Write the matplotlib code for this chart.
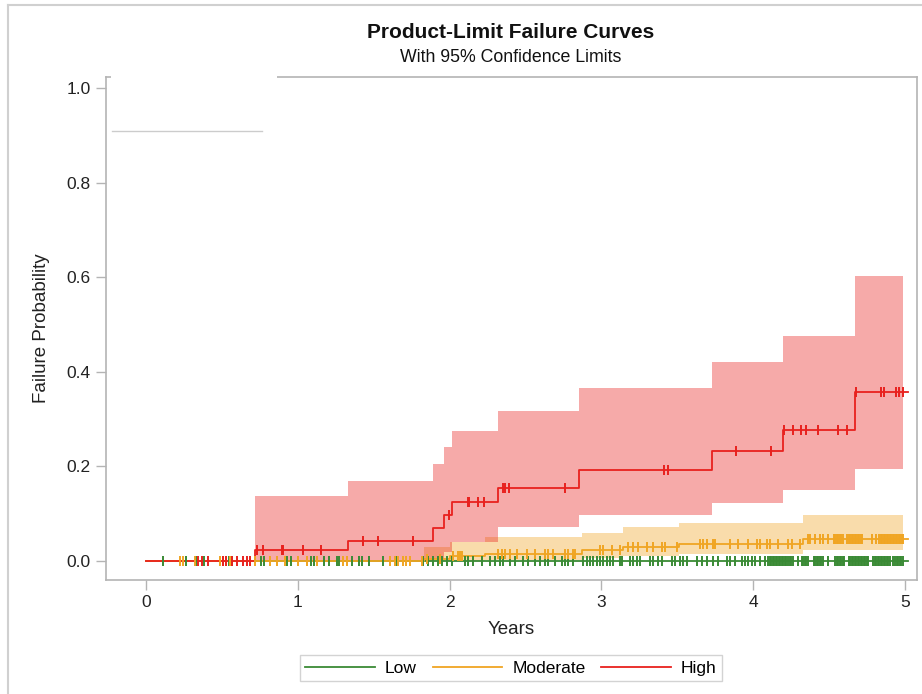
import numpy as np
import matplotlib
matplotlib.use("Agg")
import matplotlib.pyplot as plt
from matplotlib.lines import Line2D
from matplotlib.patches import Rectangle

plt.rcParams['font.family'] = ['Liberation Sans', 'DejaVu Sans']

# ---------------- data ----------------
groups = ["Low", "Moderate", "High"]

# High risk group: step times, failure probability and 95% limits
high_times = [0.0, 0.718, 1.333, 1.893, 1.963, 2.016, 2.32, 2.855, 3.73, 4.20, 4.673]
high_fail  = [0.0, 0.023, 0.043, 0.070, 0.097, 0.125, 0.155, 0.192, 0.2325, 0.277, 0.357]
high_upper = [0.0, 0.138, 0.169, 0.205, 0.242, 0.275, 0.317, 0.366, 0.421, 0.476, 0.603]
high_lower = [0.0, 0.0, 0.0, 0.005, 0.020, 0.041, 0.073, 0.097, 0.122, 0.150, 0.194]
high_censor = [0.345, 0.367, 0.41, 0.51, 0.53, 0.565, 0.60, 0.64, 0.663, 0.685,
               0.73, 0.773, 0.895, 0.905, 1.036, 1.153,
               1.427, 1.53, 1.76,
               1.997, 2.119, 2.13, 2.19, 2.23,
               2.35, 2.365, 2.393, 2.76,
               3.41, 3.44, 3.89, 4.12,
               4.205, 4.264, 4.313, 4.348, 4.425, 4.557, 4.616,
               4.68, 4.846, 4.862, 4.94, 4.963, 4.985]

# Moderate risk group
mod_times = [0.0, 1.83, 2.0, 2.233, 2.87, 3.14, 3.51, 4.33]
mod_fail  = [0.0, 0.005, 0.010, 0.016, 0.023, 0.030, 0.037, 0.046]
mod_upper = [0.0, 0.030, 0.041, 0.050, 0.059, 0.071, 0.080, 0.097]
mod_lower = [0.0, 0.0, 0.001, 0.003, 0.006, 0.010, 0.016, 0.023]
mod_censor = [0.224, 0.246, 0.323, 0.49, 0.51, 0.53, 0.55, 0.718, 0.817, 0.861, 0.916,
              1.003, 1.059, 1.124, 1.30, 1.322, 1.61, 1.64, 1.66, 1.69, 1.71, 1.74,
              1.816, 1.849, 1.937, 2.025, 2.058, 2.07, 2.08,
              2.32, 2.343, 2.365, 2.398, 2.441, 2.507, 2.562, 2.628, 2.65, 2.683,
              2.76, 2.782, 2.815, 2.826,
              2.99, 3.013, 3.068, 3.122,
              3.177, 3.21, 3.243, 3.298, 3.342, 3.397, 3.419, 3.496,
              3.65, 3.672, 3.694, 3.738, 3.748, 3.847, 3.902, 3.968, 4.023, 4.045,
              4.089, 4.111, 4.166, 4.232, 4.254, 4.309,
              4.363, 4.374, 4.407, 4.44, 4.462, 4.495,
              4.53, 4.54, 4.55, 4.56, 4.57, 4.58, 4.59,
              4.62, 4.63, 4.64, 4.65, 4.66, 4.67, 4.68, 4.69, 4.70, 4.71, 4.72,
              4.781, 4.813,
              4.83, 4.84, 4.85, 4.86, 4.87, 4.88, 4.89, 4.90, 4.91, 4.92,
              4.93, 4.94, 4.95, 4.96, 4.97, 4.98, 4.99]

# Low risk group (no failures)
low_times = [0.0]
low_fail  = [0.0]
low_upper = [0.0]
low_lower = [0.0]
low_censor = [0.112, 0.261, 0.327, 0.382, 0.547, 0.569, 0.756, 0.778, 0.931, 0.953,
              1.085, 1.107, 1.173, 1.206, 1.261, 1.272, 1.36, 1.404, 1.426, 1.47,
              1.558, 1.646, 1.827, 1.86, 1.893, 1.926, 1.948, 1.981, 2.014,
              2.101, 2.123, 2.156, 2.211, 2.266, 2.299, 2.332, 2.354, 2.398, 2.431,
              2.486, 2.519, 2.563, 2.596, 2.628, 2.65, 2.694, 2.738, 2.76, 2.782,
              2.815, 2.881, 2.903, 2.925, 2.947, 2.969, 2.991, 3.013, 3.035, 3.057,
              3.079, 3.123, 3.134, 3.188, 3.21, 3.232, 3.254, 3.32, 3.342, 3.375,
              3.397, 3.463, 3.485, 3.518, 3.54, 3.562, 3.628, 3.661, 3.693, 3.737,
              3.77, 3.825, 3.847, 3.88, 3.924, 3.946, 3.968, 3.99, 4.012, 4.045, 4.078,
              4.10, 4.11, 4.12, 4.13, 4.14, 4.15, 4.16, 4.17, 4.18, 4.19, 4.20,
              4.21, 4.22, 4.23, 4.24, 4.25, 4.26, 4.297,
              4.32, 4.33, 4.34, 4.35, 4.36,
              4.40, 4.41, 4.42, 4.43, 4.44, 4.45, 4.46, 4.495,
              4.54, 4.55, 4.56, 4.57, 4.58, 4.59, 4.60,
              4.63, 4.64, 4.65, 4.66, 4.67, 4.68, 4.69, 4.70, 4.71, 4.72, 4.73,
              4.74, 4.75, 4.76,
              4.79, 4.80, 4.81, 4.82, 4.83, 4.84, 4.85, 4.86, 4.87, 4.88, 4.89, 4.90,
              4.925, 4.935, 4.945, 4.955, 4.965, 4.975, 4.985]

end_time = 5.02
band_end = 4.99

colors = {"Low": "#3A8A35", "Moderate": "#F0A523", "High": "#E8211E"}

series = {
    "Low": (low_times, low_fail, low_upper, low_lower, low_censor),
    "Moderate": (mod_times, mod_fail, mod_upper, mod_lower, mod_censor),
    "High": (high_times, high_fail, high_upper, high_lower, high_censor),
}

# ---------------- figure ----------------
W, H = 922, 694
fig = plt.figure(figsize=(W / 100, H / 100), dpi=100)
ax = fig.add_axes([106 / W, 1 - 580 / H, (917 - 106) / W, (580 - 77) / H])

# confidence bands
for name in ["Moderate", "High"]:
    t, f, up, lo, cen = series[name]
    tb = list(t) + [band_end]
    ub = list(up) + [up[-1]]
    lb = list(lo) + [lo[-1]]
    ax.fill_between(tb, lb, ub, step="post", color=colors[name], alpha=0.38,
                    linewidth=0, zorder=1)

# step curves and censor marks
for name in groups:
    t, f, up, lo, cen = series[name]
    ts = list(t) + [end_time]
    fs = list(f) + [f[-1]]
    ax.step(ts, fs, where="post", color=colors[name], lw=1.3, zorder=3)
    idx = np.searchsorted(np.array(t), np.array(cen), side="right") - 1
    cy = np.array(f)[idx]
    ax.plot(cen, cy, linestyle="none", marker="|", markersize=7.5,
            markeredgewidth=1.4, color=colors[name], zorder=4)

ax.set_xlim(-0.264, 5.08)
ax.set_ylim(-0.040, 1.023)
ax.set_xticks([0, 1, 2, 3, 4, 5])
ax.set_yticks([0.0, 0.2, 0.4, 0.6, 0.8, 1.0])
ax.set_yticklabels(["0.0", "0.2", "0.4", "0.6", "0.8", "1.0"])

spine_col = "#B4B4B4"
for s in ax.spines.values():
    s.set_color(spine_col)
    s.set_linewidth(1.2)
ax.tick_params(direction="out", length=7, width=1.0, color=spine_col,
               labelsize=12.5, labelcolor="#222222", pad=4)

ax.set_xlabel("Years", fontsize=13.5, color="#222222", labelpad=8)
ax.set_ylabel("Failure Probability", fontsize=13.5, color="#222222", labelpad=12)

# titles
fig.text(511 / W, 1 - 33 / H, "Product-Limit Failure Curves", ha="center",
         va="center", fontsize=15, fontweight="bold", color="#111111")
fig.text(511 / W, 1 - 57 / H, "With 95% Confidence Limits", ha="center",
         va="center", fontsize=12.8, color="#111111")

# blank inset box at top-left of plot area
fig.add_artist(Rectangle((111 / W, 1 - 82 / H), (277 - 111) / W, 10 / H,
                         transform=fig.transFigure, facecolor="white",
                         edgecolor="none", zorder=10))
fig.add_artist(Line2D([112 / W, 262 / W], [1 - 131 / H, 1 - 131 / H],
                      transform=fig.transFigure, color="#CCCCCC", lw=1.0))

# outer border
fig.add_artist(Line2D([8 / W, 8 / W], [0, 1 - 5 / H], transform=fig.transFigure,
                      color="#D0D0D0", lw=1.5))
fig.add_artist(Line2D([8 / W, 1], [1 - 5 / H, 1 - 5 / H], transform=fig.transFigure,
                      color="#D0D0D0", lw=1.5))

# legend
handles = [Line2D([], [], color=colors[g], lw=1.3) for g in groups]
leg = fig.legend(handles, groups, loc="center", bbox_to_anchor=(511 / W, 1 - 668 / H),
                 ncol=3, frameon=True, fontsize=12.5, handlelength=4.0,
                 columnspacing=0.9, handletextpad=0.6, borderpad=0.3,
                 fancybox=False)
leg.get_frame().set_edgecolor("#C8C8C8")
leg.get_frame().set_linewidth(1.0)

fig.savefig("out.png", dpi=100)
